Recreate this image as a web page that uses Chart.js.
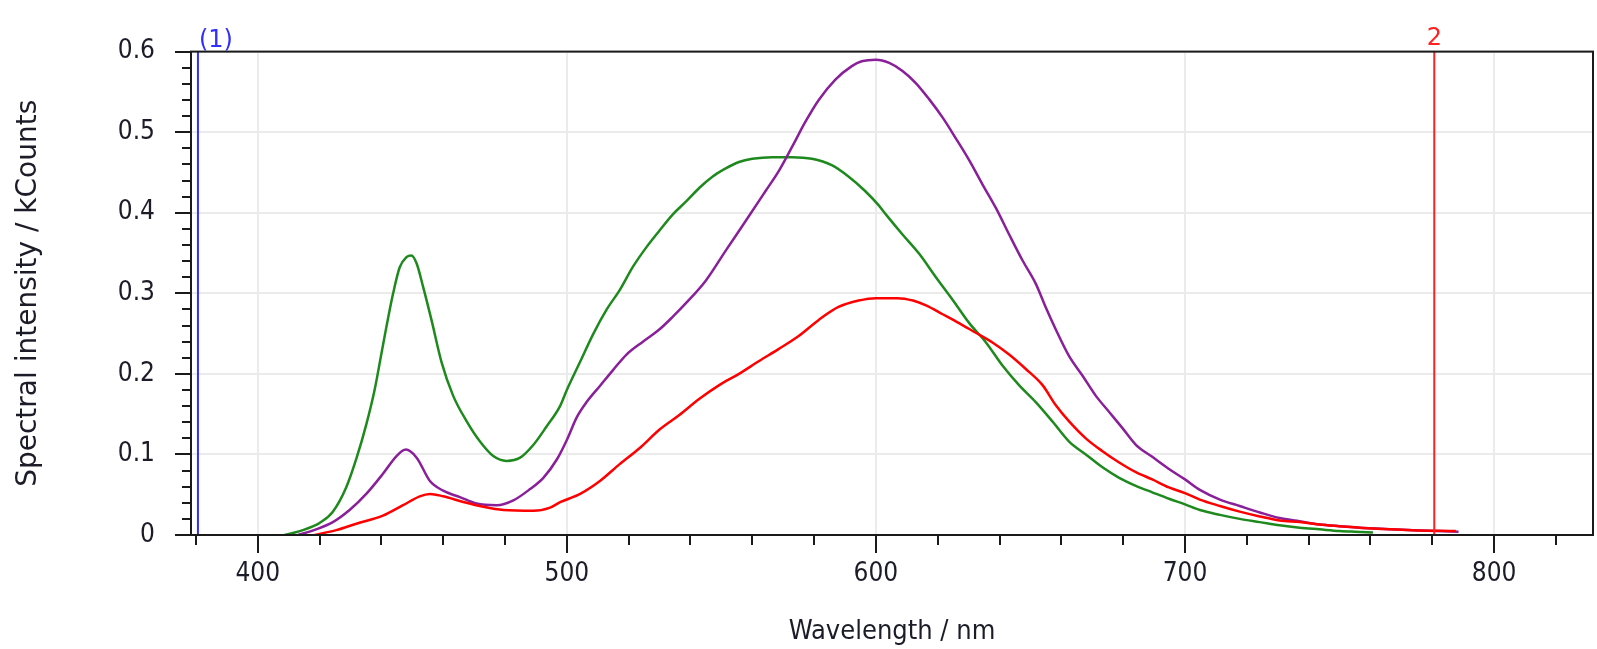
<!DOCTYPE html>
<html>
<head>
<meta charset="utf-8">
<script src="https://cdn.jsdelivr.net/npm/chart.js@4.4.0/dist/chart.umd.min.js"></script>
<style>
  html, body { margin: 0; padding: 0; background: #fff; }
  #wrap { width: 1597px; height: 649px; }
</style>
</head>
<body>
<div id="wrap"><canvas id="spectrum" width="1597" height="649"></canvas></div>
<script>
// Spectra: wavelength (nm) and intensity (kCounts)
const greenNm = [408.6, 412, 414.6, 418, 420, 424.3, 428.6, 432, 435.1, 437.8, 440, 441.6, 443.8, 445.9, 448.1, 449.7, 451.4, 453.5, 456.2, 459.5, 463.2, 467.6, 471.9, 476.2, 480.5, 484.9, 489.2, 493.5, 497.8, 500, 504.3, 508.6, 512.9, 517.1, 521.4, 525.7, 530, 534.3, 538.6, 542.9, 547.2, 551.4, 555.7, 560, 566.5, 572.9, 579.3, 585.7, 591.1, 596.5, 600.7, 603.2, 608.6, 614, 619.4, 624.8, 630.2, 635.6, 641, 646.3, 651.7, 657.1, 662.5, 667.9, 673.3, 678.7, 684.1, 689.4, 694.8, 700, 704.8, 711.3, 717.7, 724.2, 730.6, 737.1, 743.5, 750, 755, 760.8]
const greenVals = [0, 0.003, 0.006, 0.011, 0.015, 0.029, 0.059, 0.096, 0.137, 0.18, 0.225, 0.258, 0.3, 0.332, 0.345, 0.347, 0.337, 0.308, 0.267, 0.214, 0.173, 0.141, 0.116, 0.098, 0.092, 0.096, 0.112, 0.135, 0.16, 0.18, 0.215, 0.25, 0.28, 0.304, 0.333, 0.357, 0.378, 0.398, 0.414, 0.431, 0.445, 0.455, 0.463, 0.467, 0.469, 0.469, 0.467, 0.459, 0.445, 0.427, 0.41, 0.398, 0.373, 0.349, 0.32, 0.292, 0.263, 0.239, 0.21, 0.186, 0.165, 0.141, 0.116, 0.1, 0.084, 0.071, 0.061, 0.053, 0.045, 0.038, 0.031, 0.025, 0.02, 0.016, 0.012, 0.009, 0.007, 0.005, 0.004, 0.003]

const purpleNm = [413, 418.9, 424.3, 429.7, 435.1, 440.5, 444.9, 447.9, 451.4, 455.7, 460, 465.4, 470.8, 477.3, 482.7, 488.1, 492.4, 496.8, 500, 503.2, 506.4, 510.7, 515, 519.3, 524.6, 529.9, 534.3, 538.6, 545, 551.4, 557.9, 564.3, 568.6, 572.9, 577.2, 581.5, 586.8, 592.2, 595.4, 600, 604.3, 608.6, 612.9, 617.2, 621.6, 625.9, 630.2, 634.5, 638.8, 643.1, 647.4, 651.7, 655, 658.2, 662.5, 666.8, 671.1, 675.4, 679.7, 684.1, 689.4, 694.8, 700, 704.8, 711.3, 717.7, 724.2, 730.6, 737.1, 743.5, 750, 761.8, 773.7, 788.5]
const purpleVals = [0, 0.007, 0.016, 0.031, 0.051, 0.076, 0.098, 0.106, 0.096, 0.067, 0.055, 0.047, 0.039, 0.037, 0.043, 0.057, 0.071, 0.094, 0.118, 0.146, 0.165, 0.185, 0.205, 0.224, 0.24, 0.255, 0.271, 0.288, 0.316, 0.353, 0.39, 0.427, 0.452, 0.482, 0.513, 0.54, 0.565, 0.582, 0.588, 0.59, 0.586, 0.576, 0.561, 0.541, 0.518, 0.492, 0.465, 0.435, 0.406, 0.373, 0.341, 0.312, 0.282, 0.255, 0.222, 0.198, 0.173, 0.153, 0.133, 0.112, 0.097, 0.082, 0.069, 0.056, 0.044, 0.036, 0.028, 0.021, 0.017, 0.013, 0.011, 0.008, 0.006, 0.004]

const redNm = [418.4, 425.4, 431.9, 440.5, 447, 452.4, 455.7, 460, 466.5, 473, 479.5, 489.2, 494.6, 498, 504.3, 510.7, 517.1, 523.6, 530, 536.4, 542.9, 549.3, 555.7, 562.2, 568.6, 575, 581.5, 587.9, 594.4, 600, 607, 612, 616.2, 621.6, 626.9, 632.3, 637.7, 643.1, 648.5, 653.9, 658.2, 662.5, 667.9, 673.3, 678.7, 684.1, 689.4, 694.8, 700, 704.8, 711.3, 717.7, 724.2, 730.6, 737.1, 743.5, 750, 760.8, 773.7, 787.6]
const redVals = [0, 0.006, 0.014, 0.024, 0.037, 0.048, 0.051, 0.048, 0.041, 0.035, 0.031, 0.03, 0.034, 0.041, 0.051, 0.067, 0.088, 0.108, 0.131, 0.149, 0.169, 0.186, 0.2, 0.216, 0.231, 0.247, 0.267, 0.283, 0.291, 0.294, 0.294, 0.291, 0.285, 0.274, 0.263, 0.251, 0.239, 0.224, 0.206, 0.186, 0.161, 0.141, 0.12, 0.104, 0.09, 0.078, 0.069, 0.059, 0.052, 0.044, 0.036, 0.029, 0.023, 0.018, 0.016, 0.013, 0.011, 0.008, 0.006, 0.005]

// axis ticks (labels only on the major ones)
const xTicks = [380, 400, 420, 440, 460, 480, 500, 520, 540, 560, 580, 600, 620, 640, 660, 680, 700, 720, 740, 760, 780, 800, 820]
const yTicks = [0, 0.02, 0.04, 0.06, 0.08, 0.1, 0.12, 0.14, 0.16, 0.18, 0.2, 0.22, 0.24, 0.26, 0.28, 0.3, 0.32, 0.34, 0.36, 0.38, 0.4, 0.42, 0.44, 0.46, 0.48, 0.5, 0.52, 0.54, 0.56, 0.58, 0.6]

// cursor markers
const markerNm = [380, 780]
const markerLabels = ["(1)", "2"]
const markerColors = ["#2f2fff", "#ff2020"]

const textColor = "#1c1c28"
const fontFamily = "'DejaVu Sans Condensed', 'DejaVu Sans', sans-serif"
const wideFamily = "'DejaVu Sans', sans-serif"

const toPoints = (xs, ys) => xs.map((x, i) => ({ x: x, y: ys[i] }))
const isMajorY = (v) => Math.abs(v * 10 - Math.round(v * 10)) < 1e-6

// box, tick marks and cursor lines
const framePlugin = {
  id: "frame",
  afterDatasetsDraw(chart) {
    const { ctx, chartArea: a, scales } = chart
    ctx.save()
    markerNm.forEach((nm, i) => {
      const px = scales.x.getPixelForValue(nm) + 2
      ctx.strokeStyle = markerColors[i]
      ctx.lineWidth = 2
      ctx.beginPath()
      ctx.moveTo(px, a.top)
      ctx.lineTo(px, a.bottom)
      ctx.stroke()
      ctx.fillStyle = markerColors[i]
      ctx.font = "24px " + wideFamily
      ctx.textBaseline = "alphabetic"
      ctx.textAlign = i === 0 ? "left" : "center"
      ctx.fillText(markerLabels[i], i === 0 ? px + 1 : px, i === 0 ? a.top - 5 : a.top - 7)
    })
    ctx.restore()
  },
  afterDraw(chart) {
    const { ctx, chartArea: a, scales } = chart
    ctx.save()
    ctx.strokeStyle = "#1a1a1a"
    ctx.lineWidth = 2
    ctx.beginPath()
    xTicks.forEach((v) => {
      const px = Math.round(scales.x.getPixelForValue(v))
      const len = v % 100 === 0 ? 18 : 10
      ctx.moveTo(px, a.bottom)
      ctx.lineTo(px, a.bottom + len)
    })
    yTicks.forEach((v) => {
      const py = Math.round(scales.y.getPixelForValue(v))
      const len = isMajorY(v) ? 16 : 9
      ctx.moveTo(a.left, py)
      ctx.lineTo(a.left - len, py)
    })
    ctx.stroke()
    ctx.strokeRect(a.left, a.top, a.right - a.left, a.bottom - a.top)
    ctx.restore()
  },
}

const gridColor = "#ebebeb"

new Chart(document.getElementById("spectrum"), {
  type: "line",
  data: {
    datasets: [
      { label: "red", data: toPoints(redNm, redVals), borderColor: "#ff0000", order: 0 },
      { label: "purple", data: toPoints(purpleNm, purpleVals), borderColor: "#8a1f9a", order: 1 },
      { label: "green", data: toPoints(greenNm, greenVals), borderColor: "#1e8a1e", order: 2 },
    ],
  },
  options: {
    responsive: false,
    animation: false,
    devicePixelRatio: 1,
    layout: { padding: { top: 44, right: 4, left: 0, bottom: 0 } },
    elements: {
      point: { radius: 0 },
      line: { borderWidth: 2.5, tension: 0.3, cubicInterpolationMode: "monotone", fill: false },
    },
    plugins: { legend: { display: false }, tooltip: { enabled: false } },
    scales: {
      x: {
        type: "linear",
        min: 378.4,
        max: 832,
        afterBuildTicks: (s) => { s.ticks = xTicks.map((v) => ({ value: v })) },
        afterFit: (s) => { s.height = 114 },
        border: { display: false },
        grid: {
          drawTicks: false,
          lineWidth: 2,
          color: (c) => (c.tick && c.tick.value % 100 === 0 ? gridColor : "rgba(0,0,0,0)"),
        },
        ticks: {
          autoSkip: false,
          maxRotation: 0,
          padding: 24,
          color: textColor,
          font: { family: fontFamily, size: 26 },
          callback: (v) => (v % 100 === 0 ? String(v) : ""),
        },
        title: {
          display: true,
          text: "Wavelength / nm",
          color: textColor,
          font: { family: fontFamily, size: 27 },
          padding: { top: 0, bottom: 1 },
        },
      },
      y: {
        min: 0,
        max: 0.6,
        afterBuildTicks: (s) => { s.ticks = yTicks.map((v) => ({ value: v })) },
        afterFit: (s) => { s.width = 191 },
        border: { display: false },
        grid: {
          drawTicks: false,
          lineWidth: 2,
          color: (c) => (c.tick && isMajorY(c.tick.value) ? gridColor : "rgba(0,0,0,0)"),
        },
        ticks: {
          autoSkip: false,
          padding: 36,
          color: textColor,
          font: { family: fontFamily, size: 26 },
          callback: (v) => (isMajorY(v) ? (v === 0 ? "0" : v.toFixed(1)) : ""),
        },
        title: {
          display: true,
          text: "Spectral intensity / kCounts",
          color: textColor,
          font: { family: wideFamily, size: 28 },
          padding: { top: 12, bottom: 0 },
        },
      },
    },
  },
  plugins: [framePlugin],
})
</script>
</body>
</html>
